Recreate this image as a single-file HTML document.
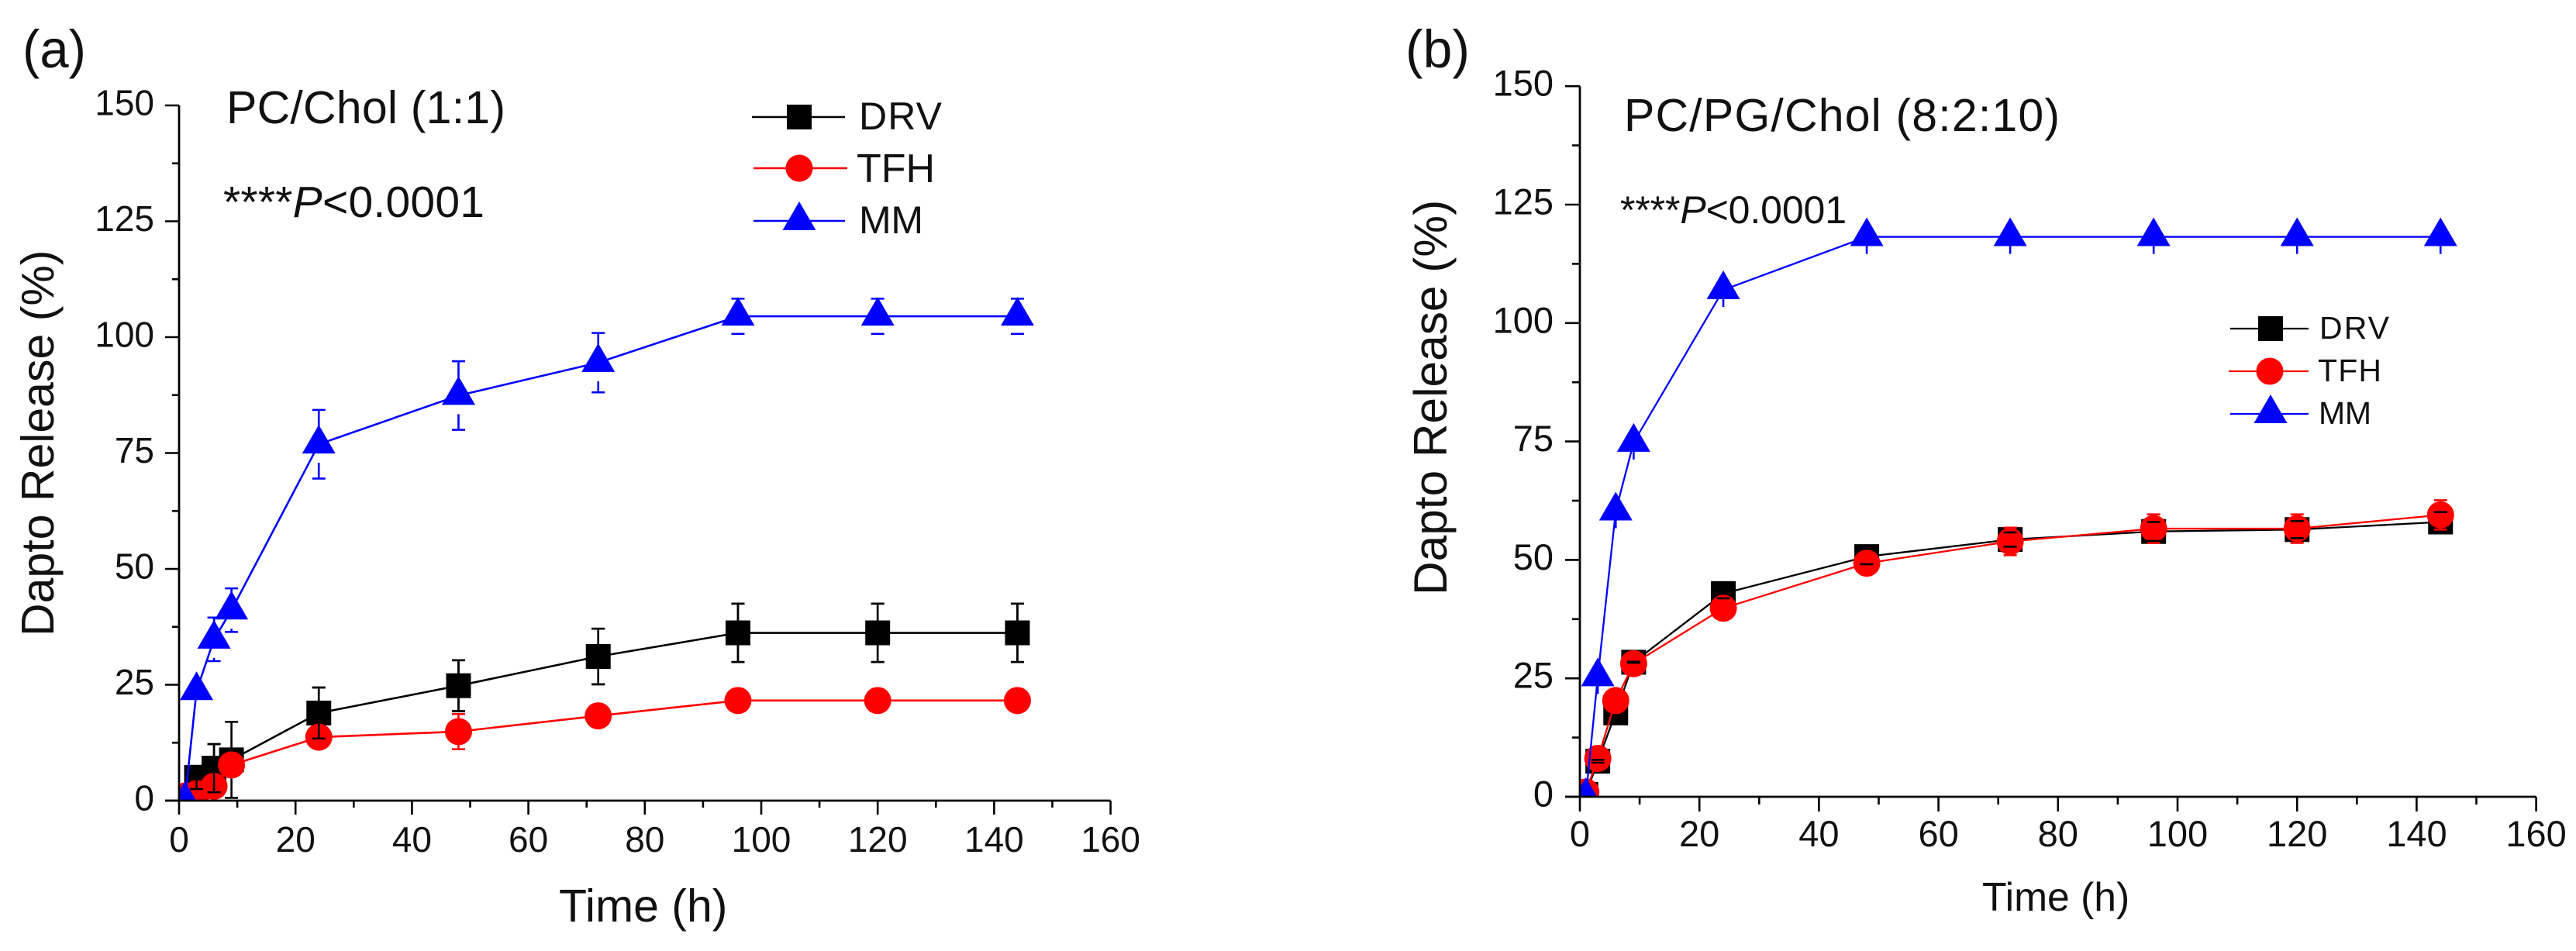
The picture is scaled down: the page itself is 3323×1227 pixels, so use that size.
<!DOCTYPE html>
<html lang="en">
<head>
<meta charset="utf-8">
<title>Dapto release charts</title>
<style>
html,body{margin:0;padding:0;background:#fff;width:3323px;height:1227px;overflow:hidden}
svg{display:block}
text{font-family:"Liberation Sans",Arial,sans-serif;fill:#111}
</style>
</head>
<body>
<svg id="figure" xmlns="http://www.w3.org/2000/svg" width="3323" height="1227" viewBox="0 0 3323 1227">
  <rect x="0" y="0" width="3323" height="1227" fill="#ffffff"/>
  <text x="29" y="87" font-size="69" textLength="82" lengthAdjust="spacingAndGlyphs">(a)</text>
  <text x="1813" y="87" font-size="69" textLength="83" lengthAdjust="spacingAndGlyphs">(b)</text>
  <text x="292" y="159" font-size="59" textLength="360" lengthAdjust="spacing">PC/Chol (1:1)</text>
  <text x="288" y="280" font-size="57" textLength="337" lengthAdjust="spacing">****<tspan font-style="italic">P</tspan>&lt;0.0001</text>
  <text x="2095" y="169" font-size="59" textLength="562" lengthAdjust="spacing">PC/PG/Chol (8:2:10)</text>
  <text x="2090" y="288" font-size="50" textLength="292" lengthAdjust="spacing">****<tspan font-style="italic">P</tspan>&lt;0.0001</text>
  <text transform="translate(69 821) rotate(-90)" font-size="59">Dapto Release (%)</text>
  <text transform="translate(1866 768) rotate(-90)" font-size="60.4">Dapto Release (%)</text>
  <text x="721" y="1189" font-size="59">Time (h)</text>
  <text x="2557" y="1175" font-size="51.6">Time (h)</text>
</svg>
<script>
// ---- data ----
const times = [1, 3, 6, 9, 24, 48, 72, 96, 120, 144];
const xTickLabels = [0, 20, 40, 60, 80, 100, 120, 140, 160];
const yTickLabels = [0, 25, 50, 75, 100, 125, 150];
const seriesNames = ['DRV', 'TFH', 'MM'];

const aDrv = [0.5, 5.0, 7.0, 8.8, 18.9, 24.8, 31.1, 36.2, 36.2, 36.2];
const aTfh = [1.0, 1.5, 3.1, 7.7, 13.7, 14.9, 18.3, 21.6, 21.6, 21.6];
const aMm = [0.0, 23.7, 34.8, 41.1, 76.9, 87.4, 94.5, 104.5, 104.5, 104.5];
const aDrvErr = [0, 2.5, 5.2, 8.2, 5.5, 5.5, 6.0, 6.3, 6.3, 6.3];
const aTfhErr = [0, 0, 0, 0, 0, 3.8, 0, 0, 0, 0];
const aMmErr = [0, 0, 4.7, 4.7, 7.4, 7.4, 6.4, 3.8, 3.8, 3.8];

const bDrv = [0.5, 7.5, 17.7, 28.4, 42.9, 50.7, 54.3, 56.0, 56.4, 58.0];
const bTfh = [1.0, 8.1, 20.3, 28.1, 39.8, 49.3, 53.9, 56.6, 56.6, 59.5];
const bMm = [0.0, 25.3, 60.3, 74.8, 107.0, 118.2, 118.2, 118.2, 118.2, 118.2];
const bDrvErr = [0, 0.3, 0, 0.1, 1.0, 1.6, 1.5, 2.0, 1.8, 2.1];
const bTfhErr = [0, 0, 0, 0, 0, 1.2, 2.9, 3.0, 3.0, 3.1];
const bMmErr = [0, 3.6, 3.6, 3.6, 3.6, 3.6, 3.6, 3.6, 3.6, 3.6];

const SVG_NS = 'http://www.w3.org/2000/svg';
const figure = document.getElementById('figure');
const seriesColors = { DRV: '#000000', TFH: '#ff0000', MM: '#0000ff' };

function make(parent, tag, attrs) {
  const node = document.createElementNS(SVG_NS, tag);
  for (const k in attrs) node.setAttribute(k, attrs[k]);
  parent.appendChild(node);
  return node;
}

function drawMarker(parent, kind, cx, cy, label) {
  let m;
  if (kind === 'DRV') {
    m = make(parent, 'rect', { x: cx - 16, y: cy - 16, width: 32, height: 32, fill: seriesColors.DRV });
  } else if (kind === 'TFH') {
    m = make(parent, 'circle', { cx: cx, cy: cy, r: 17.5, fill: seriesColors.TFH });
  } else {
    m = make(parent, 'polygon', { points: (cx) + ',' + (cy - 25) + ' ' + (cx + 21.5) + ',' + (cy + 12) + ' ' + (cx - 21.5) + ',' + (cy + 12), fill: seriesColors.MM });
  }
  
  
  return m;
}

function drawLine(parent, name, values, xs, ys, width, label) {
  const pts = values.map((v, i) => xs(times[i]) + ',' + ys(v)).join(' ');
  const l = make(parent, 'polyline', { points: pts, fill: 'none', stroke: seriesColors[name], 'stroke-width': width });
  
  
}

function drawErrors(parent, name, values, errs, xs, ys, capHalf, lowerGap, only, label, parts) {
  values.forEach((v, i) => {
    if (!errs[i] || !only(times[i])) return;
    const cx = xs(times[i]);
    const top = ys(v + errs[i]);
    const bottom = ys(v - errs[i]);
    const cy = ys(v);
    let d = '';
    if (parts !== 'caps') {
      d += 'M' + cx + ' ' + top + 'V' + cy;
      if (bottom > cy + lowerGap) d += 'M' + cx + ' ' + (cy + lowerGap) + 'V' + bottom;
    }
    if (capHalf > 0 && parts !== 'stems') {
      d += 'M' + (cx - capHalf) + ' ' + top + 'H' + (cx + capHalf);
      d += 'M' + (cx - capHalf) + ' ' + bottom + 'H' + (cx + capHalf);
    }
    if (!d) return;
    const e = make(parent, 'path', { d: d, fill: 'none', stroke: seriesColors[name], 'stroke-width': 2.6 });
    
    
  });
}

function drawAxes(parent, p, xs, ys) {
  const ax = make(parent, 'path', {
    d: 'M' + (xs(0) - p.tick) + ' ' + ys(0) + 'H' + xs(160) + 'M' + xs(0) + ' ' + ys(0) + 'V' + ys(150),
    fill: 'none', stroke: '#000', 'stroke-width': 2.8
  });
  
  

  xTickLabels.forEach((t) => {
    const major = make(parent, 'line', { x1: xs(t), x2: xs(t), y1: ys(0), y2: ys(0) + p.tick, stroke: '#000', 'stroke-width': 2.6 });
    
    
    if (t < 160) {
      const minor = make(parent, 'line', { x1: xs(t + 10), x2: xs(t + 10), y1: ys(0), y2: ys(0) + p.minor, stroke: '#000', 'stroke-width': 2.6 });
      
      
    }
    const label = make(parent, 'text', { x: xs(t), y: p.xLabelY, 'font-size': p.tickFont, 'text-anchor': 'middle' });
    label.textContent = t;
    
    
  });

  yTickLabels.forEach((v) => {
    const major = make(parent, 'line', { x1: xs(0) - p.tick, x2: xs(0), y1: ys(v), y2: ys(v), stroke: '#000', 'stroke-width': 2.6 });
    
    
    if (v < 150) {
      const minor = make(parent, 'line', { x1: xs(0) - p.minor, x2: xs(0), y1: ys(v + 12.5), y2: ys(v + 12.5), stroke: '#000', 'stroke-width': 2.6 });
      
      
    }
    const label = make(parent, 'text', { x: p.yLabelX, y: ys(v) + 12.5, 'font-size': p.tickFont, 'text-anchor': 'end' });
    label.textContent = v;
    
    
  });
}

function drawLegend(parent, p) {
  seriesNames.forEach((name, i) => {
    const e = p.legend[i];
    const g = make(parent, 'g', {});
    
    
    make(g, 'line', { x1: e.x1, x2: e.x2, y1: e.y, y2: e.y, stroke: seriesColors[name], 'stroke-width': p.lineWidth });
    drawMarker(g, name, e.mx, e.y, p.id + '-legend-marker-' + name.toLowerCase());
    const t = make(g, 'text', { x: e.tx, y: e.ty, 'font-size': e.fs, textLength: e.tl, lengthAdjust: 'spacing' });
    t.textContent = name;
    
    
  });
}

function drawPanel(p) {
  const xs = (t) => p.x0 + t * p.xScale;
  const ys = (v) => p.y0 - v * p.yScale;

  const group = make(figure, 'g', {});
  
  

  const clip = make(group, 'clipPath', { id: p.id + '-clip' });
  make(clip, 'rect', { x: xs(0), y: 0, width: 1600, height: ys(0) });

  const plot = make(group, 'g', { 'clip-path': 'url(#' + p.id + '-clip)' });
  
  

  // black series
  drawLine(plot, 'DRV', p.drv, xs, ys, p.lineWidth, p.id + '-line-drv');
  p.drv.forEach((v, i) => drawMarker(plot, 'DRV', xs(times[i]), ys(v), p.id + '-point-drv'));
  drawErrors(plot, 'DRV', p.drv, p.drvErr, xs, ys, 8.5, 0, (t) => p.drvBehind.includes(t), p.id + '-error-drv', 'all');
  drawErrors(plot, 'DRV', p.drv, p.drvErr, xs, ys, 8.5, 0, (t) => !p.drvBehind.includes(t), p.id + '-error-drv', p.drvSplit ? 'stems' : 'none-yet');

  // red series
  drawLine(plot, 'TFH', p.tfh, xs, ys, p.lineWidth, p.id + '-line-tfh');
  drawErrors(plot, 'TFH', p.tfh, p.tfhErr, xs, ys, 8.5, 0, () => true, p.id + '-error-tfh', 'all');
  p.tfh.forEach((v, i) => drawMarker(plot, 'TFH', xs(times[i]), ys(v), p.id + '-point-tfh'));
  drawErrors(plot, 'DRV', p.drv, p.drvErr, xs, ys, 8.5, 0, (t) => !p.drvBehind.includes(t), p.id + '-error-drv', p.drvSplit ? 'caps' : 'all');

  // blue series
  drawLine(plot, 'MM', p.mm, xs, ys, p.lineWidth, p.id + '-line-mm');
  drawErrors(plot, 'MM', p.mm, p.mmErr, xs, ys, p.mmCap, p.mmGap, () => true, p.id + '-error-mm', 'all');
  p.mm.forEach((v, i) => drawMarker(plot, 'MM', xs(times[i]), ys(v), p.id + '-point-mm'));

  drawAxes(group, p, xs, ys);
  drawLegend(group, p);
}

drawPanel({
  id: 'panel-a', x0: 231, y0: 1033, xScale: 7.51, yScale: 5.98,
  tick: 18, minor: 9, tickFont: 46, xLabelY: 1099, yLabelX: 199, lineWidth: 2.6,
  drv: aDrv, tfh: aTfh, mm: aMm, drvErr: aDrvErr, tfhErr: aTfhErr, mmErr: aMmErr,
  drvBehind: [9], drvSplit: false, mmCap: 8.5, mmGap: 24,
  legend: [
    { x1: 970, x2: 1090, mx: 1031, y: 151, tx: 1108, ty: 167, fs: 50, tl: 107 },
    { x1: 972, x2: 1093, mx: 1031, y: 217, tx: 1105, ty: 235, fs: 52, tl: 101 },
    { x1: 972, x2: 1090, mx: 1031, y: 285, tx: 1108, ty: 301, fs: 50, tl: 83 }
  ]
});

drawPanel({
  id: 'panel-b', x0: 2038, y0: 1028, xScale: 7.71, yScale: 6.112,
  tick: 19, minor: 10, tickFont: 47, xLabelY: 1092, yLabelX: 2004, lineWidth: 2.3,
  drv: bDrv, tfh: bTfh, mm: bMm, drvErr: bDrvErr, tfhErr: bTfhErr, mmErr: bMmErr,
  drvBehind: [], drvSplit: true, mmCap: 0, mmGap: 0,
  legend: [
    { x1: 2877, x2: 2978, mx: 2929, y: 424, tx: 2992, ty: 437, fs: 41, tl: 90 },
    { x1: 2875, x2: 2978, mx: 2928, y: 479, tx: 2990, ty: 492, fs: 41, tl: 82 },
    { x1: 2877, x2: 2978, mx: 2929, y: 534, tx: 2991, ty: 547, fs: 41, tl: 68 }
  ]
});
</script>
</body>
</html>
